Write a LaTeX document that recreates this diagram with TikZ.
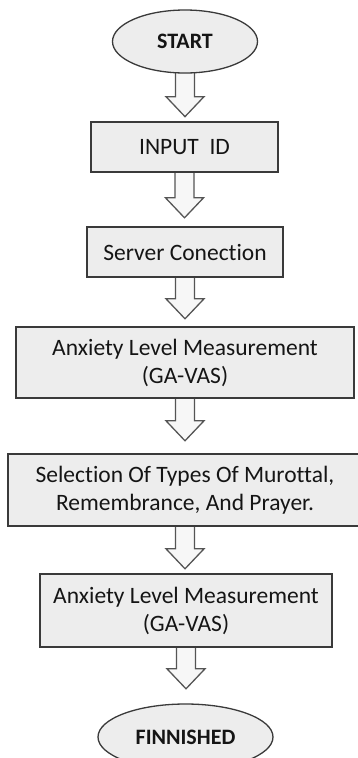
\documentclass[tikz,border=0pt]{standalone}
\usepackage{fontspec}
\setmainfont{Carlito}[Ligatures=NoCommon]
\usetikzlibrary{shapes.geometric,calc,backgrounds}
\definecolor{boxfill}{HTML}{EDEDED}
\definecolor{boxline}{HTML}{3A3A3A}
\definecolor{arrowfill}{HTML}{F7F7F7}
\definecolor{arrowline}{HTML}{555555}
\definecolor{txt}{HTML}{151515}
\tikzset{
  procbox/.style={rectangle, draw=boxline, fill=boxfill, line width=1.6pt,
    inner sep=0pt, align=center, text=txt, font=\fontsize{23.5}{28}\selectfont},
  termnode/.style={ellipse, draw=boxline, fill=boxfill, line width=1.3pt,
    inner sep=0pt, text=txt, font=\fontsize{22}{26}\selectfont\bfseries},
  flowarrow/.style={fill=arrowfill, draw=arrowline, line width=1.3pt, line join=miter}
}
\newcommand\flowarr[2]{%
  \path[flowarrow] ($(#1.south)+(-9.5,3)$) -- ($(#2)+(-9.5,20)$) -- ($(#2)+(-19,20)$)
    -- (#2) -- ($(#2)+(19,20)$) -- ($(#2)+(9.5,20)$) -- ($(#1.south)+(9.5,3)$);}
\begin{document}
\begin{tikzpicture}[x=1pt,y=1pt]
\clip (0,0) rectangle (358,-758);
\node[termnode, minimum width=145pt, minimum height=63pt] (start) at (185,-41.5) {START};
\node[procbox, minimum width=187pt, minimum height=50pt] (input) at (184.5,-147) {INPUT\ \ ID};
\node[procbox, minimum width=196pt, minimum height=50pt] (server) at (185,-252) {Server Conection};
\node[procbox, minimum width=338pt, minimum height=71pt] (anx1) at (185,-362.5) {Anxiety Level Measurement\\(GA-VAS)};
\node[procbox, minimum width=354pt, minimum height=72pt] (sel) at (185,-490) {Selection Of Types Of Murottal,\\Remembrance, And Prayer.};
\node[procbox, minimum width=292pt, minimum height=73pt] (anx2) at (186,-610.5) {Anxiety Level Measurement\\(GA-VAS)};
\node[termnode, minimum width=175pt, minimum height=66pt] (fin) at (185.5,-737) {FINNISHED};
\coordinate (t1) at ($(start.south)+(0,-43)$);
\coordinate (t2) at ($(input.south)+(0,-45)$);
\coordinate (t3) at ($(server.south)+(0,-41)$);
\coordinate (t4) at ($(anx1.south)+(0,-42)$);
\coordinate (t5) at ($(sel.south)+(0,-42)$);
\coordinate (t6) at ($(anx2.south)+(0,-41)$);
\begin{pgfonlayer}{background}
\fill[white] (0,0) rectangle (358,-758);
\flowarr{start}{t1}
\flowarr{input}{t2}
\flowarr{server}{t3}
\flowarr{anx1}{t4}
\flowarr{sel}{t5}
\flowarr{anx2}{t6}
\end{pgfonlayer}
\end{tikzpicture}
\end{document}
